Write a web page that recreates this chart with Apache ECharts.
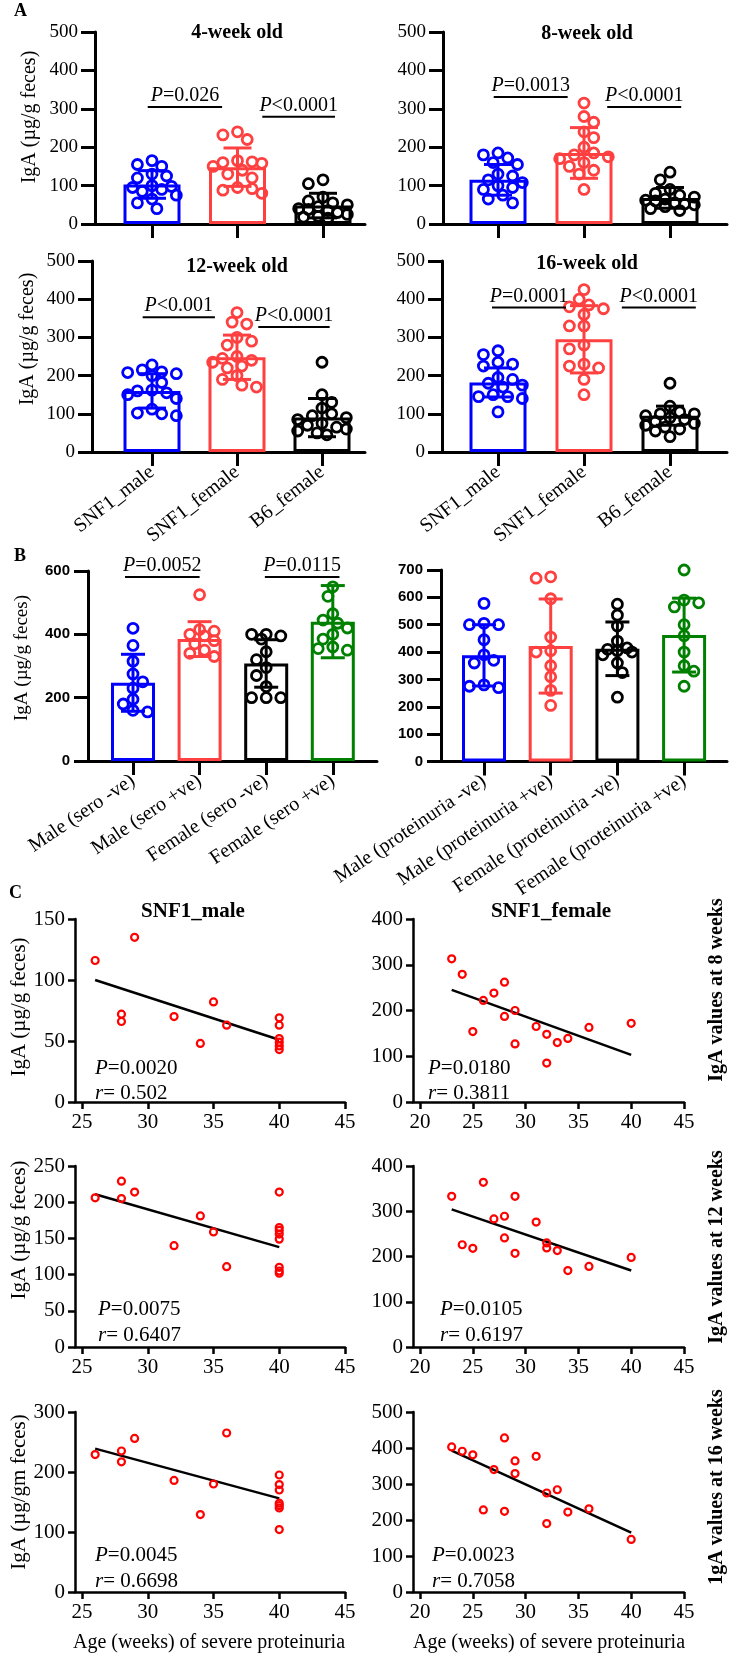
<!DOCTYPE html>
<html><head><meta charset="utf-8">
<script src="https://cdn.jsdelivr.net/npm/echarts@6/dist/echarts.min.js"></script>
<style>html,body{margin:0;padding:0;background:#fff}#c{width:729px;height:1653px}</style>
</head><body><div id="c"></div>
<script>
// ================= DATA =================
// Panel A
const groupsA = ['SNF1_male', 'SNF1_female', 'B6_female'];
const a4_male   = [165, 155, 150, 130, 125, 120, 100, 98, 95, 90, 85, 75, 65, 55, 40];
const a4_female = [240, 232, 220, 165, 162, 160, 158, 150, 140, 130, 120, 95, 92, 88, 80];
const a4_b6     = [115, 105, 70, 60, 55, 50, 45, 40, 38, 35, 30, 25, 20, 18, 15];
const a4_mean = [103, 148, 48];
const a4_sd   = [36, 50, 32];
const a8_male   = [185, 180, 172, 160, 155, 130, 125, 115, 108, 100, 95, 90, 75, 65, 55];
const a8_female = [315, 280, 265, 240, 225, 200, 185, 180, 175, 170, 160, 150, 140, 130, 90];
const a8_b6     = [135, 115, 90, 80, 75, 70, 65, 62, 60, 55, 52, 50, 45, 40, 35];
const a8_mean = [115, 185, 68];
const a8_sd   = [40, 66, 27];
const a12_male   = [228, 215, 210, 208, 205, 200, 182, 162, 160, 155, 150, 140, 112, 102, 100, 95];
const a12_female = [365, 340, 335, 300, 290, 280, 250, 245, 240, 235, 225, 220, 200, 190, 175, 170];
const a12_b6     = [235, 150, 130, 115, 100, 95, 90, 85, 75, 70, 65, 60, 55, 50, 45];
const a12_mean = [160, 248, 90];
const a12_sd   = [45, 58, 50];
const a16_male   = [265, 255, 235, 230, 225, 195, 190, 180, 175, 170, 150, 145, 145, 140, 105];
const a16_female = [425, 400, 385, 380, 375, 360, 330, 330, 280, 270, 230, 225, 220, 190, 150];
const a16_b6     = [180, 120, 105, 100, 100, 95, 90, 85, 80, 75, 70, 65, 60, 55, 40];
const a16_mean = [182, 295, 95];
const a16_sd   = [38, 88, 25];
const ticksA = [0, 100, 200, 300, 400, 500];

// Panel B
const groupsSero = ['Male (sero -ve)', 'Male (sero +ve)', 'Female (sero -ve)', 'Female (sero +ve)'];
const sero_male_neg   = [419, 365, 315, 275, 250, 230, 195, 180, 160, 155];
const sero_male_pos   = [525, 415, 410, 400, 395, 380, 370, 350, 340, 330];
const sero_female_neg = [400, 400, 395, 385, 345, 320, 295, 270, 235, 200, 200, 200];
const sero_female_pos = [550, 520, 465, 445, 435, 420, 400, 385, 360, 355, 350];
const sero_mean = [247, 385, 308, 440];
const sero_sd   = [90, 55, 75, 114];
const groupsProt = ['Male (proteinuria -ve)', 'Male (proteinuria +ve)', 'Female (proteinuria -ve)', 'Female (proteinuria +ve)'];
const prot_male_neg   = [578, 505, 500, 500, 445, 390, 370, 360, 280, 275, 270];
const prot_male_pos   = [675, 670, 595, 455, 405, 400, 350, 310, 260, 205];
const prot_female_neg = [575, 535, 495, 440, 415, 410, 405, 400, 390, 360, 325, 235];
const prot_female_pos = [700, 590, 580, 565, 500, 460, 400, 350, 330, 275];
const prot_mean = [388, 422, 412, 462];
const prot_sd   = [112, 172, 98, 135];

// Panel C (x = age in weeks at severe proteinuria, y = IgA)
const c8m_x  = [26, 29, 28, 28, 32, 35, 36, 34, 40, 40, 40, 40, 40, 40];
const c8m_y  = [116, 135, 72, 66, 70, 82, 63, 48, 69, 63, 52, 49, 46, 43];
const c8m_fitX = [26, 40], c8m_fitY = [100, 51];
const c8f_x  = [23, 24, 25, 26, 27, 28, 28, 29, 29, 31, 32, 32, 33, 34, 36, 40];
const c8f_y  = [313, 279, 154, 222, 238, 262, 187, 200, 127, 165, 148, 85, 130, 139, 163, 172];
const c8f_fitX = [23, 40], c8f_fitY = [245, 103];
const c12m_x = [26, 28, 28, 29, 32, 34, 35, 36, 40, 40, 40, 40, 40, 40, 40, 40];
const c12m_y = [206, 229, 205, 214, 140, 181, 159, 111, 214, 165, 161, 156, 149, 110, 105, 102];
const c12m_fitX = [26, 40], c12m_fitY = [211, 138];
const c12f_x = [23, 24, 25, 26, 27, 28, 28, 29, 29, 31, 32, 32, 33, 34, 36, 40];
const c12f_y = [333, 226, 218, 364, 283, 289, 241, 333, 207, 276, 230, 219, 213, 169, 178, 198];
const c12f_fitX = [23, 40], c12f_fitY = [304, 169];
const c16m_x = [26, 28, 28, 29, 32, 34, 35, 36, 40, 40, 40, 40, 40, 40, 40];
const c16m_y = [229, 235, 217, 256, 186, 129, 180, 265, 195, 179, 170, 148, 144, 140, 104];
const c16m_fitX = [26, 40], c16m_fitY = [239, 156];
const c16f_x = [23, 24, 25, 26, 27, 28, 28, 29, 29, 31, 32, 32, 33, 34, 36, 40];
const c16f_y = [403, 391, 381, 228, 340, 428, 224, 364, 329, 377, 275, 190, 284, 222, 231, 146];
const c16f_fitX = [23, 40], c16f_fitY = [393, 165];
const ticksMaleX = [25, 30, 35, 40, 45];
const ticksFemaleX = [20, 25, 30, 35, 40, 45];

// ================= STYLE / LAYOUT =================
const SERIF = '"Liberation Serif","Times New Roman",serif';
const SANS = '"Liberation Sans",Arial,sans-serif';
const COL = ['#0000FF', '#FF4040', '#000000', '#008000'];

const grids = [], xAxes = [], yAxes = [], series = [], texts = [], brackets = [];

function swarm(vals, pxY, d, maxHalf) {
  const order = vals.map((v, i) => i).sort((a, b) => vals[b] - vals[a]);
  const placed = [], offs = new Array(vals.length).fill(0);
  const step = d * 0.38, minD = d * 0.82;
  let flip = 1;
  for (const i of order) {
    const y = vals[i] * pxY;
    let chosen = null, best = 0, bestX = 0;
    const kmax = Math.floor(maxHalf / step);
    for (let k = 0; k <= kmax && chosen === null; k++) {
      const cands = k === 0 ? [0] : [flip * k * step, -flip * k * step];
      for (const x of cands) {
        let m = Infinity;
        for (const p of placed) m = Math.min(m, Math.hypot(p.x - x, p.y - y));
        if (m >= minD) { chosen = x; break; }
        if (m > best) { best = m; bestX = x; }
      }
    }
    if (chosen === null) chosen = bestX;
    flip = -flip;
    placed.push({ x: chosen, y }); offs[i] = chosen;
  }
  return offs;
}

function barPanel(p) {
  const gi = grids.length;
  grids.push({ left: p.axisX, top: p.yTop, width: p.rightX - p.axisX, height: p.yZero - p.yTop, outerBoundsMode: 'none', containLabel: false });
  const idx = p.cats.map((c, i) => i);
  xAxes.push({
    gridIndex: gi, type: 'value',
    min: -(p.c0 - p.axisX) / p.spacing, max: (p.rightX - p.c0) / p.spacing,
    axisLine: { show: true, onZero: false, lineStyle: { color: '#000', width: p.lw } },
    axisTick: { show: true, customValues: idx, length: p.xTickLen, lineStyle: { color: '#000', width: p.lw } },
    axisLabel: { show: !!p.showCats, customValues: idx, formatter: v => p.cats[Math.round(v)] || '',
      rotate: p.catRotate, margin: p.catMargin, fontFamily: SERIF, fontSize: p.catFont, color: '#000' },
    splitLine: { show: false }
  });
  yAxes.push({
    gridIndex: gi, type: 'value', min: 0, max: p.yMax, interval: p.yInterval,
    axisLine: { show: true, onZero: false, lineStyle: { color: '#000', width: p.lw } },
    axisTick: { show: true, length: p.yTickLen, lineStyle: { color: '#000', width: p.lw } },
    axisLabel: { margin: p.yTickLen + p.yLabMargin, fontFamily: p.yFontFamily, fontSize: p.yFont, fontWeight: p.yWeight, color: '#000' },
    splitLine: { show: false }
  });
  series.push({
    type: 'bar', xAxisIndex: gi, yAxisIndex: gi, barWidth: p.barW, z: 1, silent: true,
    data: p.means.map((m, i) => ({ value: [i, m], itemStyle: { color: '#fff', borderColor: COL[i], borderWidth: p.lw } }))
  });
  series.push({
    type: 'custom', xAxisIndex: gi, yAxisIndex: gi, z: 2, silent: true,
    data: p.means.map((m, i) => [i, m, p.sds[i]]),
    renderItem: (params, api) => {
      const i = api.value(0), m = api.value(1), s = api.value(2);
      const t = api.coord([i, m + s]), b = api.coord([i, m - s]);
      const st = { stroke: COL[params.dataIndex], lineWidth: p.lw };
      return { type: 'group', children: [
        { type: 'line', shape: { x1: t[0], y1: t[1], x2: b[0], y2: b[1] }, style: st },
        { type: 'line', shape: { x1: t[0] - p.cap, y1: t[1], x2: t[0] + p.cap, y2: t[1] }, style: st },
        { type: 'line', shape: { x1: b[0] - p.cap, y1: b[1], x2: b[0] + p.cap, y2: b[1] }, style: st }
      ] };
    }
  });
  const pxY = (p.yZero - p.yTop) / p.yMax;
  p.groups.forEach((vals, i) => {
    const offs = swarm(vals, pxY, p.dot + p.dotBorder, p.barW / 2 - 4);
    series.push({
      type: 'scatter', xAxisIndex: gi, yAxisIndex: gi, z: 3, silent: true,
      symbol: 'circle', symbolSize: p.dot,
      itemStyle: { color: 'rgba(255,255,255,0)', borderColor: COL[i], borderWidth: p.dotBorder, opacity: 1 },
      data: vals.map((v, k) => [i + offs[k] / p.spacing, v])
    });
  });
  (p.brackets || []).forEach(b => brackets.push({ gi, x0: b[0], x1: b[1], y: b[2], op: b[3], font: p.pFont }));
  return gi;
}

function scatterPanel(p) {
  const gi = grids.length;
  const ppu = (p.xEndPx - p.xStartPx) / (p.xMax - p.xTicks[0]);
  grids.push({ left: p.axisX, top: p.yTop, width: p.xEndPx - p.axisX, height: p.yZero - p.yTop, outerBoundsMode: 'none', containLabel: false });
  xAxes.push({
    gridIndex: gi, type: 'value', min: p.xTicks[0] - (p.xStartPx - p.axisX) / ppu, max: p.xMax,
    axisLine: { show: true, onZero: false, lineStyle: { color: '#000', width: 2.5 } },
    axisTick: { show: true, customValues: p.xTicks, length: 7, lineStyle: { color: '#000', width: 2.5 } },
    axisLabel: { customValues: p.xTicks, margin: 10, fontFamily: SERIF, fontSize: 21, color: '#000' },
    splitLine: { show: false }
  });
  yAxes.push({
    gridIndex: gi, type: 'value', min: 0, max: p.yMax, interval: p.yInterval,
    axisLine: { show: true, onZero: false, lineStyle: { color: '#000', width: 2.5 } },
    axisTick: { show: true, length: 7, lineStyle: { color: '#000', width: 2.5 } },
    axisLabel: { margin: 10, fontFamily: SERIF, fontSize: 21, color: '#000' },
    splitLine: { show: false }
  });
  series.push({
    type: 'line', xAxisIndex: gi, yAxisIndex: gi, z: 2, silent: true, symbol: 'none',
    lineStyle: { color: '#000', width: 2.5 },
    data: p.fitX.map((x, k) => [x, p.fitY[k]])
  });
  series.push({
    type: 'scatter', xAxisIndex: gi, yAxisIndex: gi, z: 3, silent: true,
    symbol: 'circle', symbolSize: 7,
    itemStyle: { color: 'rgba(255,255,255,0)', borderColor: '#FF0000', borderWidth: 2.2, opacity: 1 },
    data: p.x.map((x, k) => [x, p.y[k]])
  });
  return gi;
}

// ---------- Panel A ----------
const aCommon = { cats: groupsA, yMax: 500, yInterval: 100, lw: 3, xTickLen: 14, yTickLen: 14, yLabMargin: 3,
  yFontFamily: SERIF, yFont: 19, yWeight: 'normal', barW: 57, cap: 14, dot: 10, dotBorder: 2.8,
  catRotate: 38, catMargin: 18, catFont: 20, pFont: 20 };
barPanel(Object.assign({}, aCommon, { axisX: 95, rightX: 365, c0: 152, spacing: 85.5, yTop: 32, yZero: 224,
  groups: [a4_male, a4_female, a4_b6], means: a4_mean, sds: a4_sd,
  brackets: [[-0.05, 0.82, 305, '=0.026'], [1.29, 2.14, 279, '<0.0001']] }));
barPanel(Object.assign({}, aCommon, { axisX: 443, rightX: 727, c0: 498, spacing: 86, yTop: 32, yZero: 224,
  groups: [a8_male, a8_female, a8_b6], means: a8_mean, sds: a8_sd,
  brackets: [[-0.05, 0.81, 331, '=0.0013'], [1.27, 2.13, 305, '<0.0001']] }));
barPanel(Object.assign({}, aCommon, { axisX: 92, rightX: 365, c0: 152, spacing: 85, yTop: 261, yZero: 452, showCats: true,
  groups: [a12_male, a12_female, a12_b6], means: a12_mean, sds: a12_sd,
  brackets: [[-0.11, 0.74, 353, '<0.001'], [1.25, 2.09, 327, '<0.0001']] }));
barPanel(Object.assign({}, aCommon, { axisX: 442, rightX: 727, c0: 498, spacing: 86, yTop: 261, yZero: 452, showCats: true,
  groups: [a16_male, a16_female, a16_b6], means: a16_mean, sds: a16_sd,
  brackets: [[-0.07, 0.79, 378, '=0.0001'], [1.44, 2.3, 378, '<0.0001']] }));

// ---------- Panel B ----------
const bCommon = { lw: 3, xTickLen: 14, yTickLen: 14, yLabMargin: 4, yFontFamily: SANS, yFont: 15, yWeight: 'bold',
  barW: 44, cap: 12, dot: 10, dotBorder: 2.8, showCats: true, catRotate: 34, catMargin: 18, catFont: 20, pFont: 20 };
barPanel(Object.assign({}, bCommon, { cats: groupsSero, axisX: 88, rightX: 377, c0: 133, spacing: 66.6, yTop: 571, yZero: 761,
  yMax: 600, yInterval: 200,
  groups: [sero_male_neg, sero_male_pos, sero_female_neg, sero_female_pos], means: sero_mean, sds: sero_sd,
  brackets: [[-0.12, 1.0, 581, '=0.0052'], [1.98, 3.1, 581, '=0.0115']] }));
barPanel(Object.assign({}, bCommon, { cats: groupsProt, axisX: 441, rightX: 727, c0: 484, spacing: 66.7, yTop: 570, yZero: 761.5,
  yMax: 700, yInterval: 100,
  groups: [prot_male_neg, prot_male_pos, prot_female_neg, prot_female_pos], means: prot_mean, sds: prot_sd }));

// ---------- Panel C ----------
const L = { axisX: 75, xStartPx: 82, xEndPx: 345, xTicks: ticksMaleX, xMax: 45 };
const R = { axisX: 413, xStartPx: 420, xEndPx: 684, xTicks: ticksFemaleX, xMax: 45 };
scatterPanel(Object.assign({}, L, { yTop: 919, yZero: 1102, yMax: 150, yInterval: 50, x: c8m_x, y: c8m_y, fitX: c8m_fitX, fitY: c8m_fitY }));
scatterPanel(Object.assign({}, R, { yTop: 919, yZero: 1102, yMax: 400, yInterval: 100, x: c8f_x, y: c8f_y, fitX: c8f_fitX, fitY: c8f_fitY }));
scatterPanel(Object.assign({}, L, { yTop: 1166, yZero: 1347, yMax: 250, yInterval: 50, x: c12m_x, y: c12m_y, fitX: c12m_fitX, fitY: c12m_fitY }));
scatterPanel(Object.assign({}, R, { yTop: 1166, yZero: 1347, yMax: 400, yInterval: 100, x: c12f_x, y: c12f_y, fitX: c12f_fitX, fitY: c12f_fitY }));
scatterPanel(Object.assign({}, L, { yTop: 1412, yZero: 1592, yMax: 300, yInterval: 100, x: c16m_x, y: c16m_y, fitX: c16m_fitX, fitY: c16m_fitY }));
scatterPanel(Object.assign({}, R, { yTop: 1412, yZero: 1592, yMax: 500, yInterval: 100, x: c16f_x, y: c16f_y, fitX: c16f_fitX, fitY: c16f_fitY }));

// ---------- Texts ----------
function T(x, y, text, o) {
  o = o || {};
  const st = { text, fill: '#000', fontFamily: o.family || SERIF, fontSize: o.size || 20, fontWeight: o.weight || 'normal',
    fontStyle: o.style || 'normal',
    align: o.align || 'center', textAlign: o.align || 'center',
    verticalAlign: o.va || 'middle', textVerticalAlign: o.va || 'middle' };
  if (o.rich) st.rich = o.rich;
  texts.push({ type: 'text', x, y, rotation: o.rot || 0, silent: true, z: 100, style: st });
}
function richPV(size) {
  return { i: { fontStyle: 'italic', fontFamily: SERIF, fontSize: size, fill: '#000' },
           n: { fontFamily: SERIF, fontSize: size, fill: '#000' } };
}
const ROT = Math.PI / 2;
// panel letters
T(14, 11, 'A', { weight: 'bold', size: 18, align: 'left' });
T(14, 556, 'B', { weight: 'bold', size: 18, align: 'left' });
T(9, 893, 'C', { weight: 'bold', size: 18, align: 'left' });
// A titles
T(237, 33, '4-week old', { weight: 'bold', size: 20 });
T(587, 34, '8-week old', { weight: 'bold', size: 20 });
T(237, 267, '12-week old', { weight: 'bold', size: 20 });
T(587, 264, '16-week old', { weight: 'bold', size: 20 });
// y axis names
T(30, 117, 'IgA (µg/g feces)', { size: 20, rot: ROT });
T(28, 339, 'IgA (µg/g feces)', { size: 20, rot: ROT });
T(22, 658, 'IgA (µg/g feces)', { size: 19, rot: ROT });
T(19, 1007, 'IgA (µg/g feces)', { size: 21, rot: ROT });
T(19, 1230, 'IgA (µg/g feces)', { size: 21, rot: ROT });
T(19, 1492, 'IgA (µg/gm feces)', { size: 21, rot: ROT });
// C titles and side labels
T(193, 912, 'SNF1_male', { weight: 'bold', size: 21 });
T(551, 912, 'SNF1_female', { weight: 'bold', size: 21 });
T(717, 990, 'IgA values at 8 weeks', { weight: 'bold', size: 20, rot: ROT });
T(717, 1247, 'IgA values at 12 weeks', { weight: 'bold', size: 20, rot: ROT });
T(717, 1487, '1gA values at 16 weeks', { weight: 'bold', size: 20, rot: ROT });
T(209, 1643, 'Age (weeks) of severe proteinuria', { size: 20 });
T(549, 1643, 'Age (weeks) of severe proteinuria', { size: 20 });
// C statistics
const cStats = [
  [95, 1068, 1093, '=0.0020', '= 0.502'], [428, 1068, 1093, '=0.0180', '= 0.3811'],
  [98, 1309, 1335, '=0.0075', '= 0.6407'], [440, 1309, 1335, '=0.0105', '= 0.6197'],
  [95, 1555, 1581, '=0.0045', '= 0.6698'], [432, 1555, 1581, '=0.0023', '= 0.7058']
];
cStats.forEach(s => {
  T(s[0], s[1], '{i|P}{n|' + s[3] + '}', { align: 'left', size: 21, rich: richPV(21) });
  T(s[0], s[2], '{i|r}{n|' + s[4] + '}', { align: 'left', size: 21, rich: richPV(21) });
});

// ================= RENDER =================
const chart = echarts.init(document.getElementById('c'), null, { renderer: 'canvas', width: 729, height: 1653 });
chart.setOption({
  animation: false, backgroundColor: '#fff',
  grid: grids, xAxis: xAxes, yAxis: yAxes, series: series
});
const lines = [];
brackets.forEach(b => {
  const p0 = chart.convertToPixel({ gridIndex: b.gi }, [b.x0, b.y]);
  const p1 = chart.convertToPixel({ gridIndex: b.gi }, [b.x1, b.y]);
  lines.push({ type: 'line', silent: true, z: 100, shape: { x1: p0[0], y1: p0[1], x2: p1[0], y2: p1[1] }, style: { stroke: '#000', lineWidth: 2 } });
  T((p0[0] + p1[0]) / 2, p0[1] - 1, '{i|P}{n|' + b.op + '}', { va: 'bottom', size: b.font, rich: richPV(b.font) });
});
chart.setOption({ graphic: { elements: texts.concat(lines) } });
</script>
</body></html>
